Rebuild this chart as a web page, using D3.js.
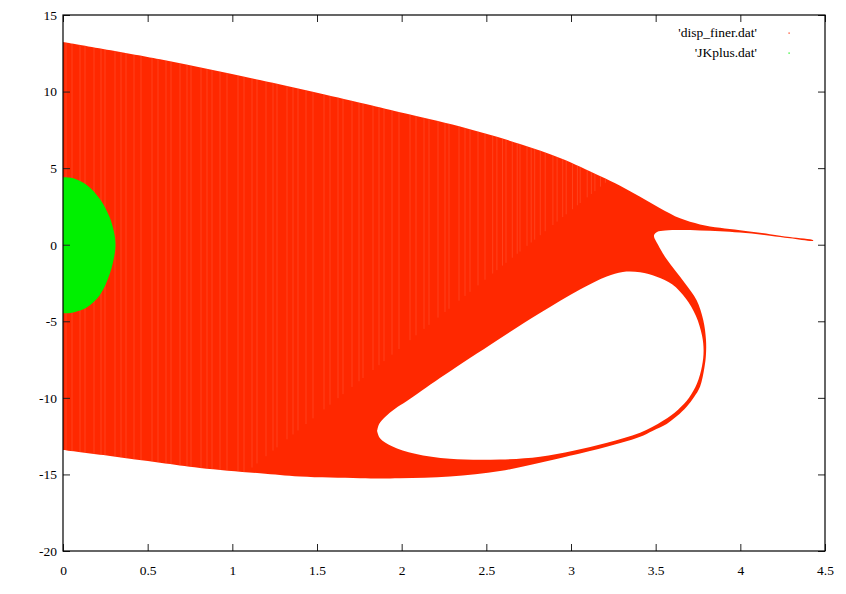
<!DOCTYPE html>
<html>
<head>
<meta charset="utf-8">
<script src="https://cdn.jsdelivr.net/npm/d3@7"></script>
<style>
  html, body { margin: 0; padding: 0; background: #fff; }
  svg { display: block; }
</style>
</head>
<body>
<svg id="chart" width="846" height="594"></svg>
<script>
// ---------------- data ----------------
const xTicks = [0, 0.5, 1, 1.5, 2, 2.5, 3, 3.5, 4, 4.5];
const yTicks = [-20, -15, -10, -5, 0, 5, 10, 15];
const xTickLabels = ["0", "0.5", "1", "1.5", "2", "2.5", "3", "3.5", "4", "4.5"];
const yTickLabels = ["-20", "-15", "-10", "-5", "0", "5", "10", "15"];
const seriesNames = ["'disp_finer.dat'", "'JKplus.dat'"];

// disp_finer.dat : upper envelope (x, y)
const dispUpper = [
  [0, 13.24], [0.573, 12.11], [1.163, 10.75], [1.754, 9.27], [1.990, 8.65],
  [2.345, 7.72], [2.699, 6.58], [2.935, 5.66], [3.171, 4.49], [3.290, 3.85],
  [3.408, 3.13], [3.526, 2.38], [3.644, 1.72], [3.762, 1.32], [3.880, 1.10],
  [3.998, 0.94], [4.175, 0.69], [4.293, 0.50], [4.430, 0.29]
];
// disp_finer.dat : tail lower edge, outer side of the loop and lower envelope (x, y)
const dispOuterLower = [
  [4.430, 0.25], [4.293, 0.42], [4.175, 0.59], [3.998, 0.79], [3.880, 0.88],
  [3.762, 0.93], [3.644, 0.96], [3.556, 0.93], [3.508, 0.83], [3.490, 0.60],
  [3.514, 0.0], [3.561, -0.88], [3.614, -1.66], [3.673, -2.51], [3.742, -3.62],
  [3.781, -4.92], [3.797, -6.19], [3.797, -7.17], [3.788, -8.02], [3.762, -9.27],
  [3.727, -9.94], [3.683, -10.58], [3.626, -11.19], [3.565, -11.70], [3.484, -12.14],
  [3.408, -12.54], [3.307, -12.90], [3.211, -13.19], [3.112, -13.47], [3.014, -13.73],
  [2.817, -14.24], [2.581, -14.78], [2.285, -15.14], [1.990, -15.25], [1.754, -15.25],
  [1.400, -15.14], [1.163, -14.93], [0.809, -14.58], [0.573, -14.24], [0.278, -13.80],
  [0, -13.41]
];
// disp_finer.dat : inner empty loop (x, y)
const dispHole = [
  [1.855, -12.17], [1.867, -11.71], [1.902, -11.25], [1.961, -10.71], [2.031, -10.21],
  [2.226, -8.71], [2.522, -6.55], [2.817, -4.46], [3.053, -2.92], [3.211, -2.07],
  [3.306, -1.78], [3.408, -1.80], [3.506, -2.09], [3.597, -2.58], [3.679, -3.53],
  [3.738, -4.65], [3.774, -5.95], [3.783, -6.92], [3.774, -7.90], [3.744, -9.07],
  [3.697, -9.99], [3.632, -10.77], [3.543, -11.50], [3.408, -12.28], [3.213, -12.93],
  [3.014, -13.45], [2.817, -13.84], [2.581, -14.03], [2.285, -13.98], [2.079, -13.65],
  [1.943, -13.16], [1.872, -12.64]
];
// edge between the striped (single-valued) part and the solid part
const dispDiagonal = [[1.08, -14.87], [3.22, 4.2]];

// JKplus.dat : half ellipse (x, y)
const jkBoundary = [
  [0, 4.40], [0.061, 4.34], [0.14, 3.90], [0.218, 2.98], [0.278, 1.72], [0.305, 0.6],
  [0.310, 0], [0.305, -0.6], [0.278, -1.85], [0.218, -3.28], [0.14, -4.10],
  [0.061, -4.42], [0, -4.48]
];

// ---------------- layout ----------------
const L = 63, R = 825, T = 15, B = 551;
const RED = "#ff2800", GREEN = "#00f000";
const FONT = "'Liberation Serif', 'Times New Roman', Times, 'DejaVu Serif', serif";

const svg = d3.select("#chart").attr("font-family", FONT);
const x = d3.scaleLinear().domain([0, 4.5]).range([L, R]);
const y = d3.scaleLinear().domain([-20, 15]).range([B, T]);

const line = d3.line().x(d => x(d[0])).y(d => y(d[1])).curve(d3.curveCatmullRom.alpha(0.5));

const outerPath = line(dispUpper.concat(dispOuterLower)) + "Z";
const holePath = line(dispHole.concat([dispHole[0]])) + "Z";

const defs = svg.append("defs");
defs.append("clipPath").attr("id", "redclip")
  .append("path").attr("d", outerPath + holePath).attr("clip-rule", "evenodd");

// red area
svg.append("path")
  .attr("d", outerPath + holePath)
  .attr("fill", RED)
  .attr("fill-rule", "evenodd");

// faint vertical streaks in the single-valued part
const diagY = d3.scaleLinear().domain([dispDiagonal[0][0], dispDiagonal[1][0]])
  .range([dispDiagonal[0][1], dispDiagonal[1][1]]);
const stepPattern = [6, 8, 5, 9, 7, 4, 10, 6, 5, 8, 7, 11];
const streaks = [];
let px = L + 3, k = 0;
while (px < x(dispDiagonal[1][0])) {
  streaks.push(px);
  px += stepPattern[k % stepPattern.length] * (px > 480 ? 0.7 : 1);
  k++;
}
const gS = svg.append("g").attr("clip-path", "url(#redclip)");
gS.selectAll("line").data(streaks).join("line")
  .attr("x1", d => d).attr("x2", d => d)
  .attr("y1", T)
  .attr("y2", d => {
    const xv = x.invert(d);
    return xv < dispDiagonal[0][0] ? B : y(diagY(xv));
  })
  .attr("stroke", "#ff7350")
  .attr("stroke-opacity", 0.45)
  .attr("stroke-width", 0.8);

// green half ellipse
svg.append("path")
  .attr("d", line(jkBoundary) + "Z")
  .attr("fill", GREEN);

// ---------------- axes ----------------
const tickLen = 7;
function styleAxis(g) {
  g.attr("font-family", FONT).attr("font-size", 13.5);
  g.select(".domain").remove();
  g.selectAll(".tick line").attr("stroke", "#222").attr("stroke-width", 1);
  g.selectAll(".tick text").attr("fill", "#000").attr("font-family", FONT);
}
svg.append("g").attr("transform", `translate(${L},0)`)
  .call(d3.axisLeft(y).tickValues(yTicks).tickFormat((d, i) => yTickLabels[i])
    .tickSize(-tickLen).tickPadding(6))
  .call(styleAxis);
svg.append("g").attr("transform", `translate(${R},0)`)
  .call(d3.axisRight(y).tickValues(yTicks).tickFormat("").tickSize(-tickLen))
  .call(styleAxis);
svg.append("g").attr("transform", `translate(0,${B})`)
  .call(d3.axisBottom(x).tickValues(xTicks).tickFormat((d, i) => xTickLabels[i])
    .tickSize(-tickLen).tickPadding(14))
  .call(styleAxis);
svg.append("g").attr("transform", `translate(0,${T})`)
  .call(d3.axisTop(x).tickValues(xTicks).tickFormat("").tickSize(-tickLen))
  .call(styleAxis);

// border
svg.append("rect")
  .attr("x", L).attr("y", T).attr("width", R - L).attr("height", B - T)
  .attr("fill", "none").attr("stroke", "#000").attr("stroke-width", 1.2);

// ---------------- legend ----------------
const legendColors = [RED, GREEN];
const lg = svg.append("g").attr("font-family", FONT).attr("font-size", 13.5);
seriesNames.forEach((name, i) => {
  const cy = 33 + i * 20;
  lg.append("text")
    .attr("x", 757).attr("y", cy)
    .attr("dy", "0.32em")
    .attr("text-anchor", "end")
    .attr("fill", "#000")
    .text(name);
  lg.append("rect")
    .attr("x", 788.5).attr("y", cy - 0.5)
    .attr("width", 1.2).attr("height", 1.2)
    .attr("fill", legendColors[i]);
});
</script>
</body>
</html>
